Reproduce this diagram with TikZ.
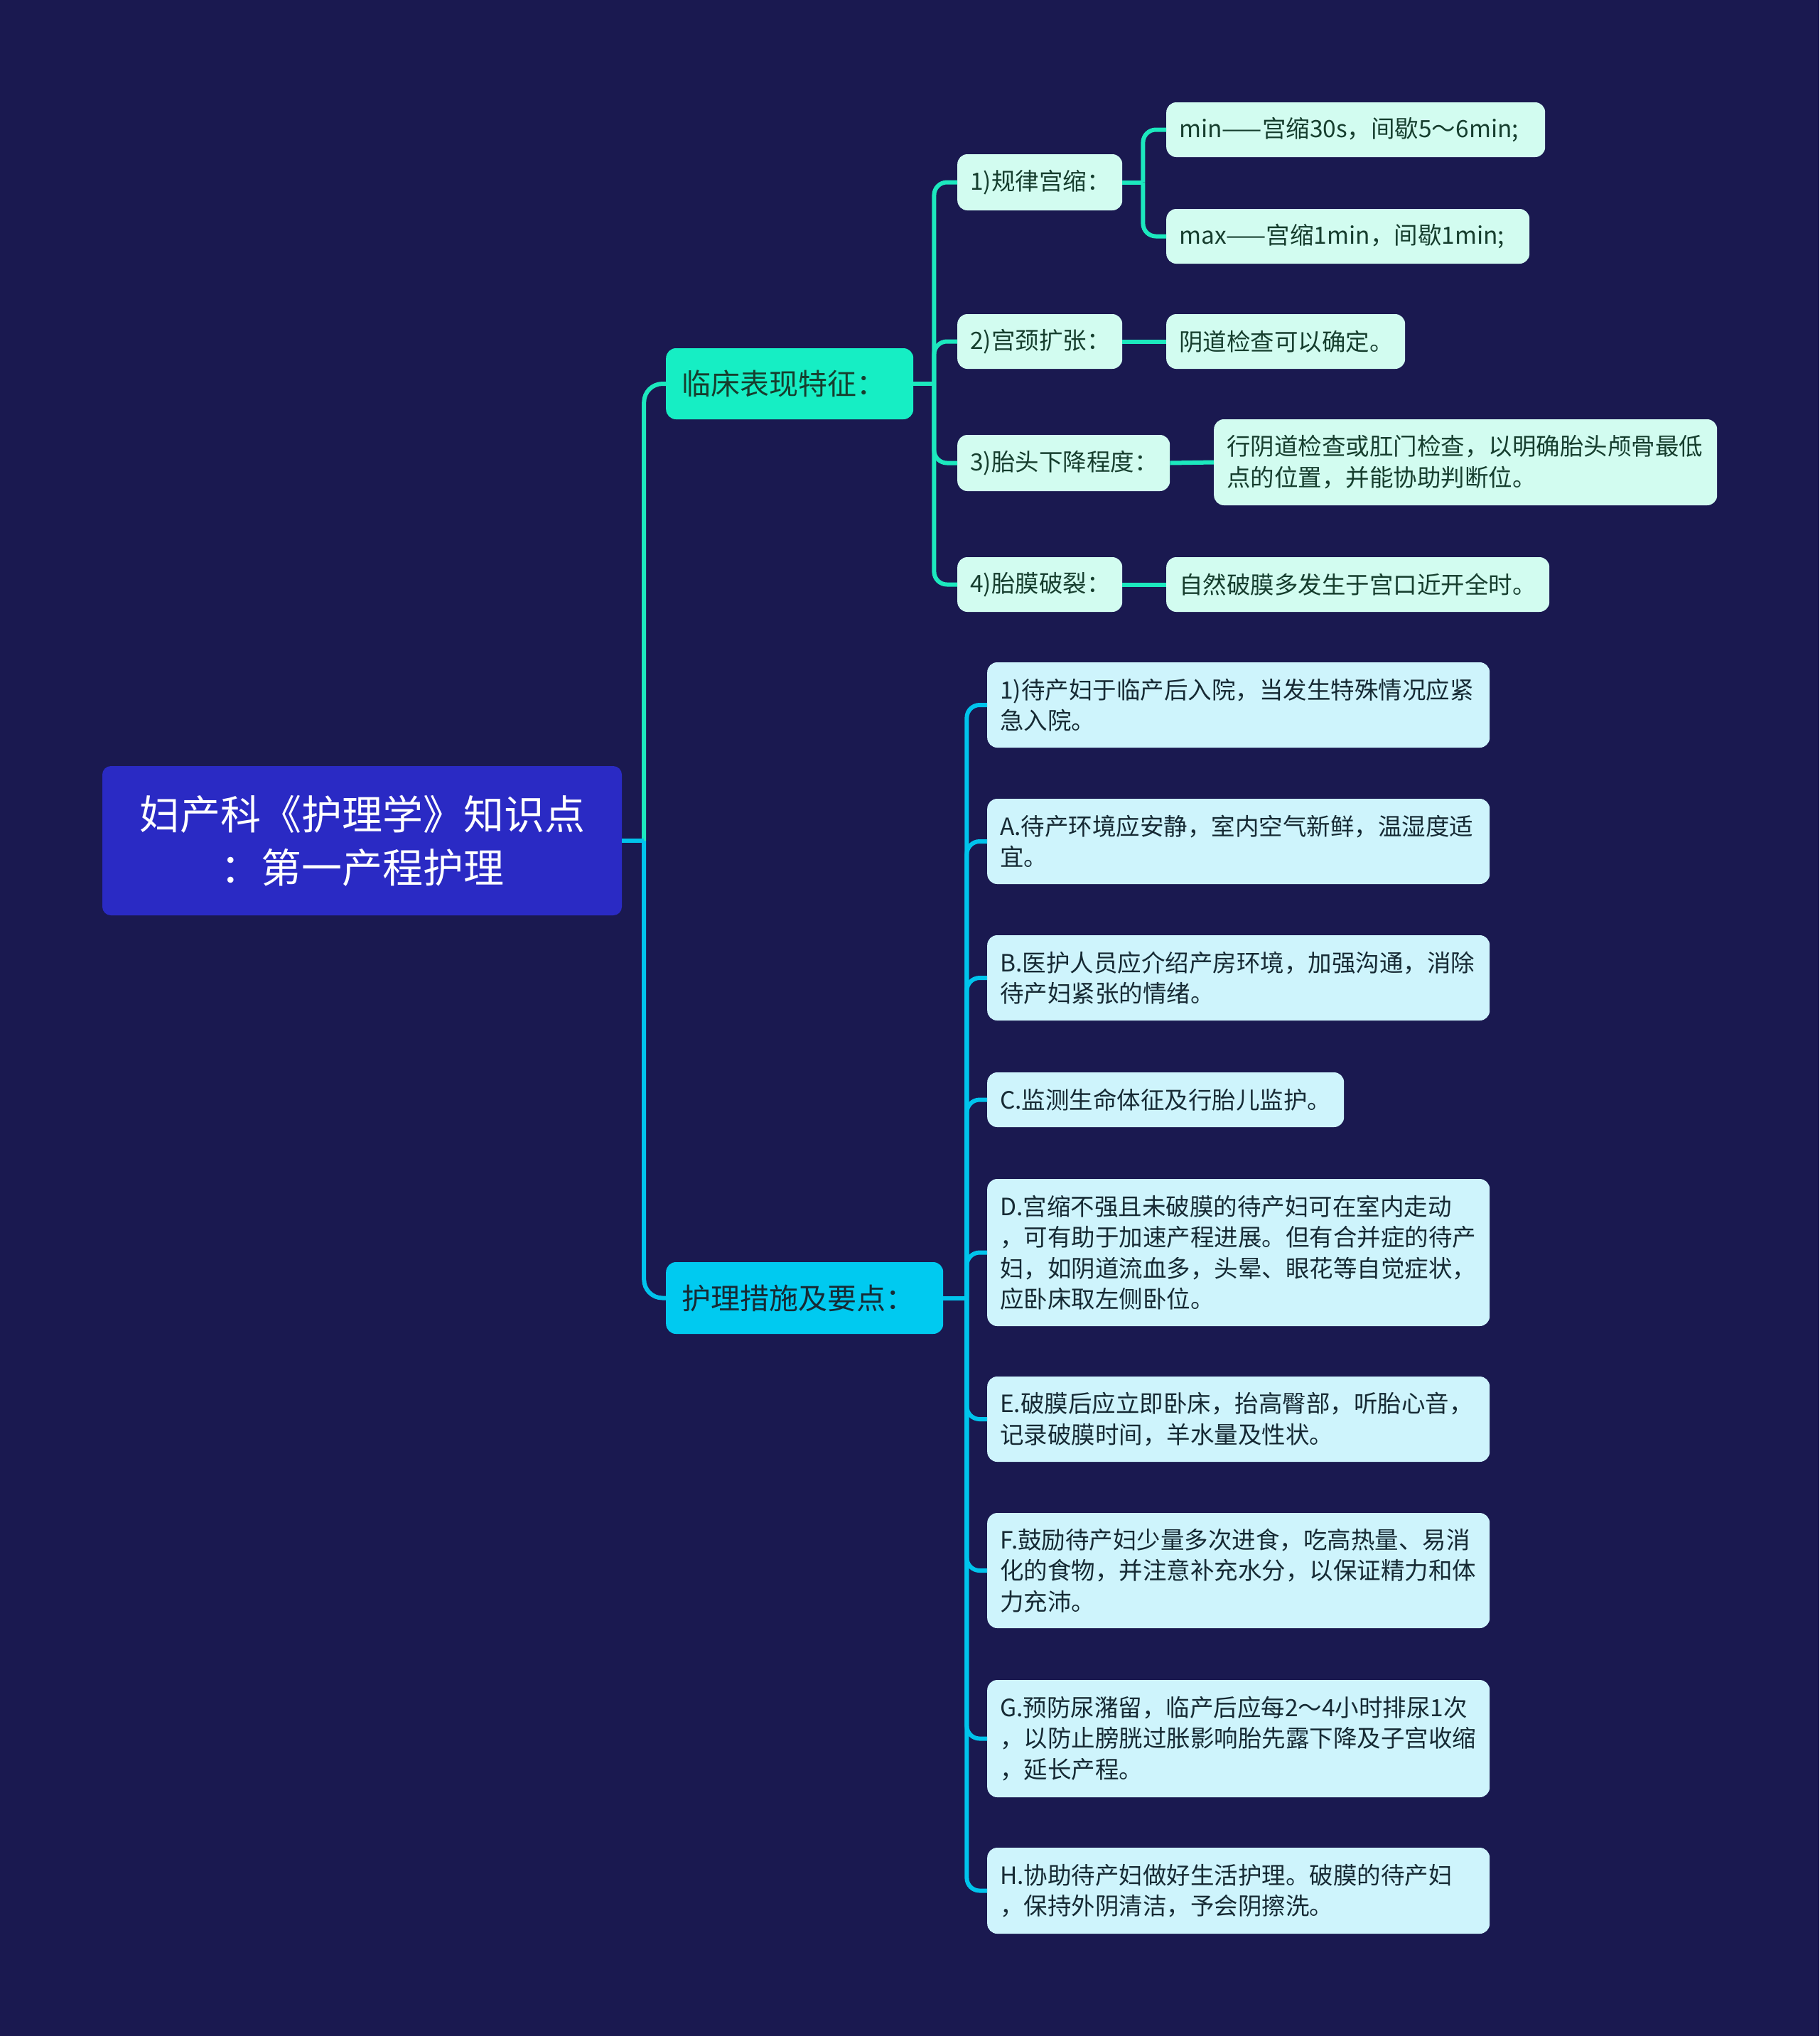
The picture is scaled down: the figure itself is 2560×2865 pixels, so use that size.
\documentclass[tikz,border=0pt]{standalone}
\usepackage{fontspec}
\setmainfont{Noto Sans CJK SC}
\definecolor{bg}{RGB}{26,25,80}
\definecolor{rootfill}{RGB}{42,42,196}
\definecolor{linfill}{RGB}{22,238,196}
\definecolor{hufill}{RGB}{0,202,240}
\definecolor{upfill}{RGB}{210,252,240}
\definecolor{lofill}{RGB}{206,244,252}
\definecolor{upline}{RGB}{28,232,190}
\definecolor{loline}{RGB}{0,196,236}
\definecolor{uptext}{RGB}{22,62,46}
\definecolor{lotext}{RGB}{22,42,52}
\tikzset{
  box/.style={rectangle, rounded corners=14pt, inner xsep=18pt, inner ysep=0pt, anchor=west, align=left},
  upbox/.style={box, fill=upfill, text=uptext, font=\fontsize{33.5}{44}\selectfont},
  lobox/.style={box, fill=lofill, text=lotext, font=\fontsize{33.5}{43.5}\selectfont},
  upconn/.style={draw=upline, line width=6pt, rounded corners=18pt},
  loconn/.style={draw=loline, line width=6pt, rounded corners=18pt},
}
\begin{document}
\begin{tikzpicture}[x=1pt,y=-1pt]
\path[fill=bg] (0,0) rectangle (2560,2865);
\useasboundingbox (0,0) rectangle (2560,2865);

% root
\node[rectangle, rounded corners=12pt, fill=rootfill, text=white, align=center,
  minimum width=731pt, minimum height=210pt, inner sep=0pt,
  font=\fontsize{57}{75}\selectfont] (root) at (509.5,1183) {妇产科《护理学》知识点\\：第一产程护理};

% level 1
\node[box, fill=linfill, text=uptext, font=\fontsize{41}{50}\selectfont, inner xsep=22pt,
  text width=304pt, minimum height=100pt] (lin) at (937,540) {临床表现特征：};
\node[box, fill=hufill, text=lotext, font=\fontsize{41}{50}\selectfont, inner xsep=22pt,
  text width=346pt, minimum height=101pt] (hu) at (937,1826.5) {护理措施及要点：};

% level 2 upper
\node[upbox, text width=196pt, minimum height=79pt] (g1) at (1347,256.5) {1)规律宫缩：};
\node[upbox, text width=196pt, minimum height=77pt] (g2) at (1347,480.5) {2)宫颈扩张：};
\node[upbox, text width=263pt, minimum height=79pt] (g3) at (1347,651.5) {3)胎头下降程度：};
\node[upbox, text width=196pt, minimum height=77pt] (g4) at (1347,822.5) {4)胎膜破裂：};

% level 3 upper
\node[upbox, text width=497pt, minimum height=77pt] (m1) at (1641,182.5) {min——宫缩30s，间歇5～6min;};
\node[upbox, text width=475pt, minimum height=77pt] (m2) at (1641,332.5) {max——宫缩1min，间歇1min;};
\node[upbox, text width=300pt, minimum height=77pt] (c2) at (1641,480.5) {阴道检查可以确定。};
\node[upbox, text width=672pt, minimum height=121pt] (c3) at (1708,650.5) {行阴道检查或肛门检查，以明确胎头颅骨最低\\点的位置，并能协助判断位。};
\node[upbox, text width=503pt, minimum height=77pt] (c4) at (1641,822.5) {自然破膜多发生于宫口近开全时。};

% level 2 lower
\node[lobox, text width=671pt, minimum height=120pt] (n1) at (1389,992) {1)待产妇于临产后入院，当发生特殊情况应紧\\急入院。};
\node[lobox, text width=671pt, minimum height=120pt] (nA) at (1389,1184) {A.待产环境应安静，室内空气新鲜，温湿度适\\宜。};
\node[lobox, text width=671pt, minimum height=120pt] (nB) at (1389,1376) {B.医护人员应介绍产房环境，加强沟通，消除\\待产妇紧张的情绪。};
\node[lobox, text width=466pt, minimum height=77pt] (nC) at (1389,1547.5) {C.监测生命体征及行胎儿监护。};
\node[lobox, text width=671pt, minimum height=207pt] (nD) at (1389,1762.5) {D.宫缩不强且未破膜的待产妇可在室内走动\\，可有助于加速产程进展。但有合并症的待产\\妇，如阴道流血多，头晕、眼花等自觉症状，\\应卧床取左侧卧位。};
\node[lobox, text width=671pt, minimum height=120pt] (nE) at (1389,1997) {E.破膜后应立即卧床，抬高臀部，听胎心音，\\记录破膜时间，羊水量及性状。};
\node[lobox, text width=671pt, minimum height=162pt] (nF) at (1389,2210) {F.鼓励待产妇少量多次进食，吃高热量、易消\\化的食物，并注意补充水分，以保证精力和体\\力充沛。};
\node[lobox, text width=671pt, minimum height=165pt] (nG) at (1389,2446.5) {G.预防尿潴留，临产后应每2～4小时排尿1次\\，以防止膀胱过胀影响胎先露下降及子宫收缩\\，延长产程。};
\node[lobox, text width=671pt, minimum height=121pt] (nH) at (1389,2660.5) {H.协助待产妇做好生活护理。破膜的待产妇\\，保持外阴清洁，予会阴擦洗。};

% junction points
\coordinate (t1) at ([xshift=31pt]root.east);
\coordinate (b1) at ([xshift=29pt]lin.east);
\coordinate (b2) at ([xshift=33pt]hu.east);
\coordinate (b3) at ([xshift=29pt]g1.east);

% connectors
\path[upconn, rounded corners=26pt] (t1) |- (lin.west);
\path[loconn] (root.east) -- (t1);
\path[loconn, rounded corners=26pt] (t1) |- (hu.west);

\path[upconn] (lin.east) -- (b1);
\path[upconn] (b1) |- (g1.west);
\path[upconn] (b1) |- (g2.west);
\path[upconn] (b1) |- (g3.west);
\path[upconn] (b1) |- (g4.west);

\path[upconn] (g1.east) -- (b3);
\path[upconn] (b3) |- (m1.west);
\path[upconn] (b3) |- (m2.west);
\path[upconn] (g2.east) -- (c2.west);
\path[upconn] (g3.east) -- (c3.west);
\path[upconn] (g4.east) -- (c4.west);

\path[loconn] (hu.east) -- (b2);
\foreach \n in {n1,nA,nB,nC,nD,nE,nF,nG,nH}{
  \path[loconn] (b2) |- (\n.west);
}
\end{tikzpicture}
\end{document}
